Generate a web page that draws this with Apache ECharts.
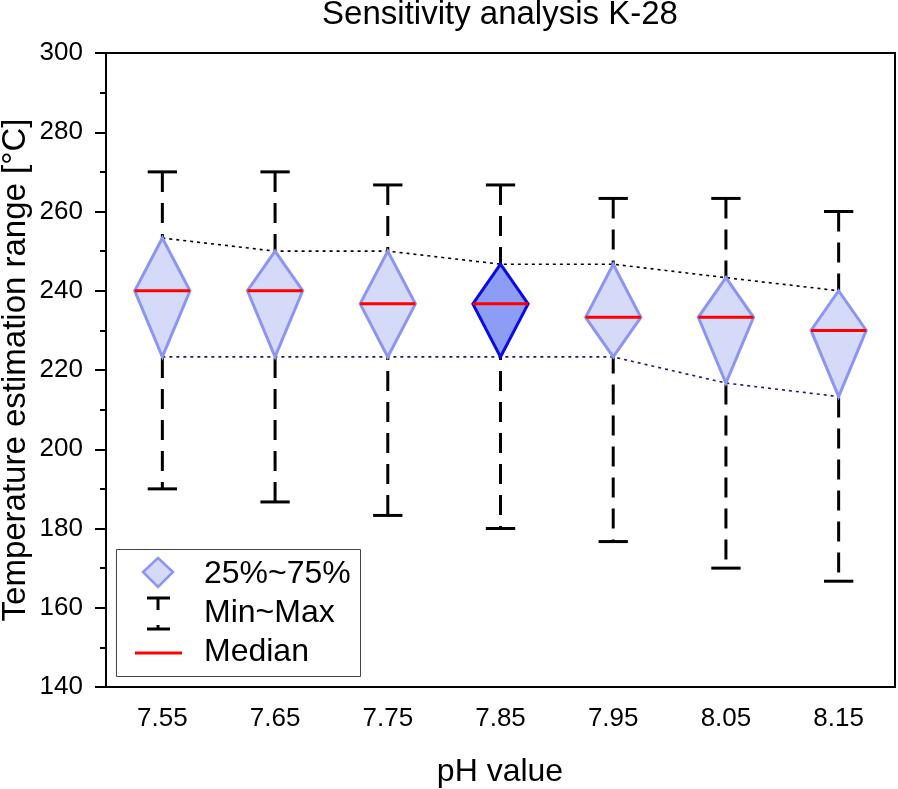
<!DOCTYPE html>
<html>
<head>
<meta charset="utf-8">
<script src="https://cdn.jsdelivr.net/npm/echarts@6/dist/echarts.min.js"></script>
<style>
  html, body { margin: 0; padding: 0; background: #fff; }
  #chart { width: 898px; height: 789px; }
</style>
</head>
<body>
<div id="chart"></div>
<script>
// 数据：每个pH值对应的最小/25%/中位/75%/最大温度
var phValues = ['7.55', '7.65', '7.75', '7.85', '7.95', '8.05', '8.15'];
var maxValues = [270, 270, 266.7, 266.7, 263.3, 263.3, 260];
var q3Values = [253.3, 250, 250, 246.7, 246.7, 243.3, 240];
var medianValues = [240, 240, 236.7, 236.7, 233.3, 233.3, 230];
var q1Values = [223.3, 223.3, 223.3, 223.3, 223.3, 216.7, 213.3];
var minValues = [190, 186.7, 183.3, 180, 176.7, 170, 166.7];
var highlightIndex = 3;

var FONT = 'Liberation Sans, Arial, sans-serif';

var boxData = [];
var whiskerData = [];
for (var i = 0; i < phValues.length; i++) {
  boxData.push([i, q1Values[i], medianValues[i], q3Values[i]]);
  whiskerData.push([i, minValues[i], maxValues[i]]);
}

// 须线：虚线 + 上下横帽
function renderWhisker(params, api) {
  var lo = api.coord([api.value(0), api.value(1)]);
  var hi = api.coord([api.value(0), api.value(2)]);
  var band = api.size([1, 0])[0];
  var hw = band * 0.13;
  var x = lo[0];
  var st = { stroke: '#000', lineWidth: 3 };
  return {
    type: 'group',
    children: [
      { type: 'line', shape: { x1: x, y1: hi[1], x2: x, y2: lo[1] },
        style: { stroke: '#000', lineWidth: 3, lineDash: [20, 11] } },
      { type: 'line', shape: { x1: x - hw, y1: hi[1], x2: x + hw, y2: hi[1] }, style: st },
      { type: 'line', shape: { x1: x - hw, y1: lo[1], x2: x + hw, y2: lo[1] }, style: st }
    ]
  };
}

// 菱形：上顶点75%，下顶点25%，左右顶点在中位数
function renderDiamond(params, api) {
  var q1 = api.coord([api.value(0), api.value(1)]);
  var med = api.coord([api.value(0), api.value(2)]);
  var q3 = api.coord([api.value(0), api.value(3)]);
  var band = api.size([1, 0])[0];
  var hw = band * 0.245;
  var x = med[0];
  var hl = params.dataIndex === highlightIndex;
  return {
    type: 'group',
    children: [
      { type: 'polygon',
        shape: { points: [[x, q3[1]], [x + hw, med[1]], [x, q1[1]], [x - hw, med[1]]] },
        style: {
          fill: hl ? '#8d9cf5' : '#d6daf9',
          stroke: hl ? '#0a0ae6' : '#8d95f2',
          lineWidth: 3,
          lineJoin: 'miter'
        } },
      { type: 'line', shape: { x1: x - hw, y1: med[1], x2: x + hw, y2: med[1] },
        style: { stroke: '#ff0000', lineWidth: 3 } }
    ]
  };
}

var chart = echarts.init(document.getElementById('chart'));
chart.setOption({
  animation: false,
  backgroundColor: '#fff',
  grid: {
    left: 106, right: 3, top: 53, bottom: 102,
    show: true, borderColor: '#000', borderWidth: 2, backgroundColor: 'transparent'
  },
  xAxis: {
    type: 'category',
    data: phValues,
    boundaryGap: true,
    axisLine: { lineStyle: { color: '#000', width: 2 } },
    axisTick: { alignWithLabel: true, length: 11, lineStyle: { color: '#000', width: 2 } },
    axisLabel: { color: '#000', fontSize: 26, fontFamily: FONT, margin: 19 },
    splitLine: { show: false }
  },
  yAxis: {
    type: 'value',
    min: 140, max: 300, interval: 20,
    axisLine: { show: true, lineStyle: { color: '#000', width: 2 } },
    axisTick: { show: true, length: 11, lineStyle: { color: '#000', width: 2 } },
    minorTick: { show: true, splitNumber: 2, length: 6, lineStyle: { color: '#000', width: 2 } },
    axisLabel: { color: '#000', fontSize: 26, fontFamily: FONT, margin: 23 },
    splitLine: { show: false }
  },
  series: [
    { name: 'Min~Max', type: 'custom', renderItem: renderWhisker, data: whiskerData,
      encode: { x: 0, y: [1, 2] }, z: 1, silent: true },
    { name: 'Q3 line', type: 'line', data: q3Values, symbol: 'none', z: 2, silent: true,
      lineStyle: { color: '#000', width: 1.6, type: [3, 4] } },
    { name: 'Q1 line', type: 'line', data: q1Values, symbol: 'none', z: 2, silent: true,
      lineStyle: { color: '#1c1c78', width: 1.6, type: [3, 4] } },
    { name: '25%~75%', type: 'custom', renderItem: renderDiamond, data: boxData,
      encode: { x: 0, y: [1, 2, 3] }, z: 3, silent: true }
  ],
  graphic: [
    { type: 'text', x: 500, y: 15, z: 10,
      style: { text: 'Sensitivity analysis K-28', font: '33px ' + FONT, fill: '#000',
               textAlign: 'center', textVerticalAlign: 'middle' } },
    { type: 'text', x: 16, y: 370, rotation: Math.PI / 2, z: 10,
      style: { text: 'Temperature estimation range [°C]', font: '33px ' + FONT, fill: '#000',
               textAlign: 'center', textVerticalAlign: 'middle' } },
    { type: 'text', x: 500, y: 772, z: 10,
      style: { text: 'pH value', font: '32px ' + FONT, fill: '#000',
               textAlign: 'center', textVerticalAlign: 'middle' } },
    // 图例
    { type: 'group', z: 20, children: [
      { type: 'rect', shape: { x: 116.5, y: 549.5, width: 244, height: 127 },
        style: { fill: '#fff', stroke: '#444', lineWidth: 1 } },
      { type: 'polygon', shape: { points: [[158, 558], [173, 572], [158, 587], [143, 572]] },
        style: { fill: '#d6daf9', stroke: '#8d95f2', lineWidth: 2.5 } },
      { type: 'text', x: 204, y: 574,
        style: { text: '25%~75%', font: '32px ' + FONT, fill: '#000', textVerticalAlign: 'middle' } },
      { type: 'line', shape: { x1: 147, y1: 598, x2: 170, y2: 598 }, style: { stroke: '#000', lineWidth: 3 } },
      { type: 'line', shape: { x1: 158, y1: 598, x2: 158, y2: 610 }, style: { stroke: '#000', lineWidth: 3 } },
      { type: 'line', shape: { x1: 147, y1: 629, x2: 170, y2: 629 }, style: { stroke: '#000', lineWidth: 3 } },
      { type: 'line', shape: { x1: 158, y1: 625, x2: 158, y2: 629 }, style: { stroke: '#000', lineWidth: 3 } },
      { type: 'text', x: 204, y: 613,
        style: { text: 'Min~Max', font: '32px ' + FONT, fill: '#000', textVerticalAlign: 'middle' } },
      { type: 'line', shape: { x1: 135, y1: 653, x2: 182, y2: 653 }, style: { stroke: '#ff0000', lineWidth: 3 } },
      { type: 'text', x: 204, y: 652,
        style: { text: 'Median', font: '32px ' + FONT, fill: '#000', textVerticalAlign: 'middle' } }
    ] }
  ]
});
</script>
</body>
</html>
